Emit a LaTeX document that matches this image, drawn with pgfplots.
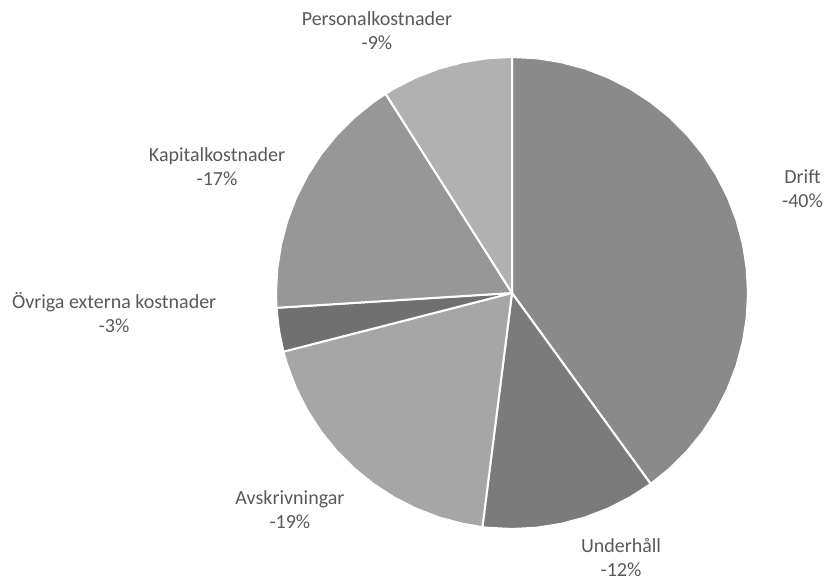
\documentclass[border=0pt]{standalone}
\usepackage{fontspec}
\setmainfont{Carlito}
\usepackage{pgfplots}
\pgfplotsset{compat=1.18}
\definecolor{cDrift}{HTML}{8A8A8A}
\definecolor{cUnder}{HTML}{7B7B7B}
\definecolor{cAvskr}{HTML}{A6A6A6}
\definecolor{cOvr}{HTML}{707070}
\definecolor{cKap}{HTML}{979797}
\definecolor{cPers}{HTML}{B1B1B1}
\definecolor{txt}{HTML}{595959}
\begin{document}
\begin{tikzpicture}
\useasboundingbox (0,0) rectangle (826pt,583pt);
\begin{axis}[hide axis, x=236pt, y=236pt, anchor=origin, at={(512pt,290pt)},
  clip=false, xmin=-1, xmax=1, ymin=-1, ymax=1,
  every axis plot/.append style={data cs=polar, draw=white, line width=2pt, line join=round}]
% Drift 40%
\addplot[fill=cDrift] coordinates {(0,0) (90,1) (84,1) (78,1) (72,1) (66,1) (60,1) (54,1) (48,1) (42,1) (36,1) (30,1) (24,1) (18,1) (12,1) (6,1) (0,1) (-6,1) (-12,1) (-18,1) (-24,1) (-30,1) (-36,1) (-42,1) (-48,1) (-54,1) (0,0)} --cycle;
% Underhall 12%
\addplot[fill=cUnder] coordinates {(0,0) (-54,1) (-60,1) (-66,1) (-72,1) (-78,1) (-84,1) (-90,1) (-96,1) (-97.2,1) (0,0)} --cycle;
% Avskrivningar 19%
\addplot[fill=cAvskr] coordinates {(0,0) (-97.2,1) (-102,1) (-108,1) (-114,1) (-120,1) (-126,1) (-132,1) (-138,1) (-144,1) (-150,1) (-156,1) (-162,1) (-165.6,1) (0,0)} --cycle;
% Ovriga 3%
\addplot[fill=cOvr] coordinates {(0,0) (-165.6,1) (-171,1) (-176.4,1) (0,0)} --cycle;
% Kapital 17%
\addplot[fill=cKap] coordinates {(0,0) (-176.4,1) (-180,1) (-186,1) (-192,1) (-198,1) (-204,1) (-210,1) (-216,1) (-222,1) (-228,1) (-234,1) (-237.6,1) (0,0)} --cycle;
% Personal 9%
\addplot[fill=cPers] coordinates {(0,0) (-237.6,1) (-240,1) (-246,1) (-252,1) (-258,1) (-264,1) (-270,1) (0,0)} --cycle;
\begin{scope}[every node/.style={align=center, text=txt, font=\fontsize{20}{24}\selectfont}]
\node at (axis cs:-0.572,1.110) {Personalkostnader\\-9\%};
\node at (axis cs:-1.250,0.534) {Kapitalkostnader\\-17\%};
\node at (axis cs:1.231,0.441) {Drift\\-40\%};
\node at (axis cs:-1.686,-0.081) {Övriga externa kostnader\\-3\%};
\node at (axis cs:-0.941,-0.919) {Avskrivningar\\-19\%};
\node at (axis cs:0.462,-1.121) {Underhåll\\-12\%};
\end{scope}
\end{axis}
\end{tikzpicture}
\end{document}
